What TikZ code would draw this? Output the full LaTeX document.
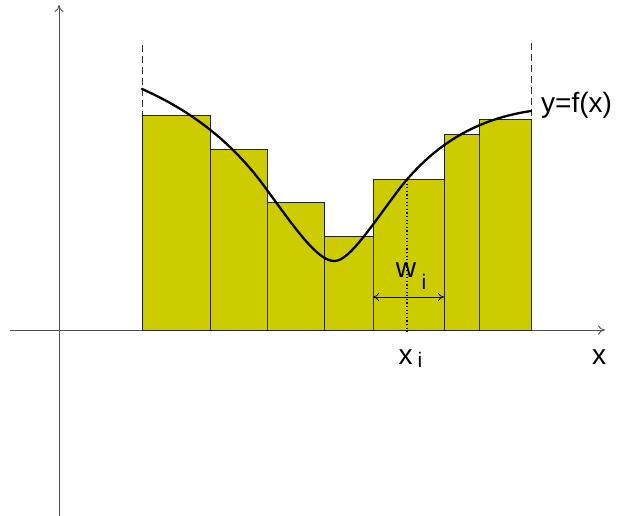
\documentclass[tikz,border=0pt]{standalone}
\usepackage{fontspec}
\setmainfont{Liberation Sans}
\usetikzlibrary{arrows.meta}
\definecolor{barfill}{HTML}{CCCC00}
\definecolor{axisgray}{HTML}{505050}
\tikzset{
  axisline/.style={draw=axisgray, line width=0.9pt, -{To[length=7pt,width=9pt]}},
  bar/.style={fill=barfill, draw=black!85, line width=0.9pt},
  edgeline/.style={draw=black!80, line width=0.9pt, dash pattern=on 7pt off 4pt},
  curveline/.style={draw=black, line width=2.3pt, line cap=round},
  lbl/.style={inner sep=0pt, font=\fontsize{28}{28}\selectfont},
  sublbl/.style={inner sep=0pt, font=\fontsize{21}{21}\selectfont},
  dotline/.style={draw=black, line width=1.4pt, dash pattern=on 1.2pt off 2.4pt},
  widtharrow/.style={draw=black, line width=0.8pt, {To[length=6pt,width=8pt]}-{To[length=6pt,width=8pt]}}
}
\begin{document}
\begin{tikzpicture}[x=1pt,y=-1pt]
\useasboundingbox (0,0) rectangle (619,516);
% axes
\coordinate (yb) at (59,516);
\coordinate (yt) at (59,5);
\coordinate (xl) at (10,330);
\coordinate (xr) at (605,330);
\draw[axisline] (yb) -- (yt);
\draw[axisline] (xl) -- (xr);
% dashed boundaries
\coordinate (al) at (142,45);
\coordinate (alb) at (142,330);
\coordinate (bt) at (531,43);
\coordinate (bb) at (531,330);
\draw[edgeline] (al) -- (alb);
\draw[edgeline] (bt) -- (bb);
% bars
\draw[bar] (142,330) rectangle (210,115);
\draw[bar] (210,330) rectangle (267,149);
\draw[bar] (267,330) rectangle (324,202);
\draw[bar] (324,330) rectangle (373,236);
\draw[bar] (373,330) rectangle (444,179);
\draw[bar] (444,330) rectangle (479,134);
\draw[bar] (479,330) rectangle (531,119);
% curve
\draw[curveline] (142,89) .. controls (185,108) and (230,138) .. (267,190)
  .. controls (295,228) and (318,262) .. (335,261)
  .. controls (350,260) and (372,225) .. (400,188)
  .. controls (430,150) and (470,120) .. (531,111);
% sample point
\coordinate (dt) at (407,180);
\coordinate (db) at (407,333);
\draw[dotline] (dt) -- (db);
\coordinate (wl) at (373,297);
\coordinate (wr) at (444,297);
\draw[widtharrow] (wl) -- (wr);
% labels
\node[lbl] (fx) [anchor=west] at (541,105.5) {y=f(x)};
\node[lbl] (xlab) at (599,357.5) {x};
\node[lbl] (xi) at (405.5,357.5) {x};
\node[sublbl] (xisub) at (420,360) {i};
\node[lbl] (wi) at (406,270) {w};
\node[sublbl] (wisub) at (424,282) {i};
\end{tikzpicture}
\end{document}
